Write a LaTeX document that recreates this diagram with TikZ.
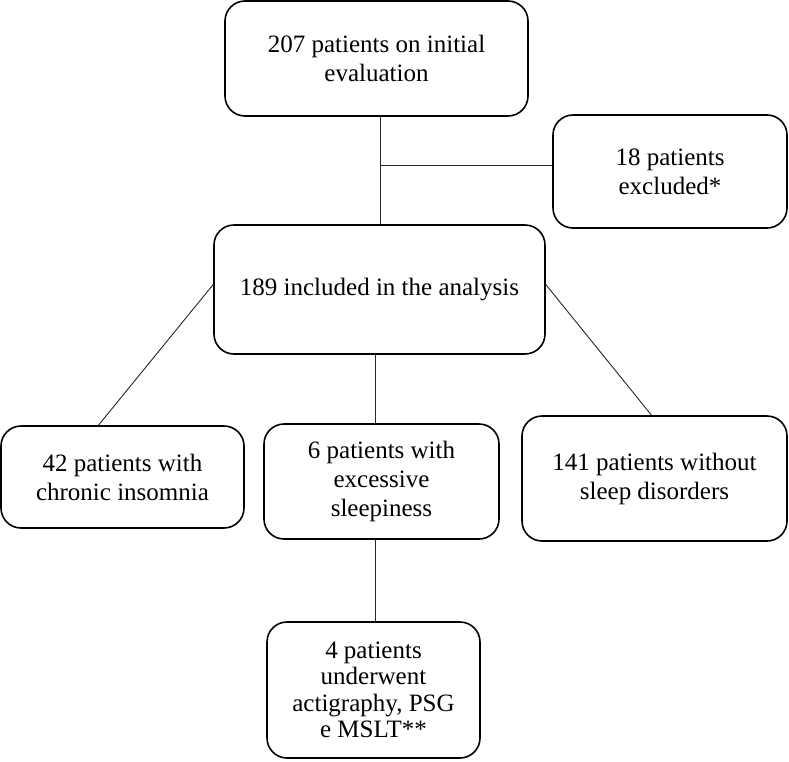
\documentclass[tikz,border=0pt]{standalone}
\usepackage{fontspec}
\setmainfont{Liberation Serif}
\usetikzlibrary{positioning}
\tikzstyle{box} = [rectangle, rounded corners=20pt, align=center, draw=black, line width=1.6pt, font=\fontsize{25}{29}\selectfont]
\tikzstyle{link} = [line width=0.9pt, draw=black!85]

\begin{document}
\begin{tikzpicture}[x=1pt, y=-1pt]
	\useasboundingbox (0,0) rectangle (789,761);

	\node (initial) [box, minimum width=303pt, minimum height=115pt] at (376.5,58.5) {207 patients on initial\\evaluation};
	\node (excluded) [box, minimum width=234pt, minimum height=113pt] at (670,171.5) {18 patients\\excluded*};
	\node (included) [box, minimum width=331pt, minimum height=129pt] at (379.5,289.5) {189 included in the analysis};

	\coordinate (split) at (380,165);
	\draw [link] (split |- initial.south) -- (split |- included.north);
	\draw [link] (split) -- (split -| excluded.west);

	\node (insomnia) [box, minimum width=243pt, minimum height=102pt] at (122.5,477) {42 patients with\\chronic insomnia};
	\node (sleepy) [box, minimum width=235pt, minimum height=115pt] at (381.5,481.5) {6 patients with\\excessive\\sleepiness};
	\node (nodisorder) [box, minimum width=265pt, minimum height=125pt] at (654.5,478.5) {141 patients without\\sleep disorders};

	\draw [link] ([yshift=5pt]included.west) -- ([xshift=-24pt]insomnia.north);
	\draw [link] ([yshift=5pt]included.east) -- ([xshift=-3pt]nodisorder.north);
	\draw [link] ([xshift=-4.5pt]included.south) -- ([xshift=-4.5pt]included.south |- sleepy.north);

	\node (tests) [box, minimum width=213pt, minimum height=136pt, font=\fontsize{25}{26.5}\selectfont] at (373.5,690) {4 patients\\underwent\\actigraphy, PSG\\e MSLT**};

	\draw [link] ([xshift=-6.5pt]sleepy.south) -- ([xshift=-6.5pt]sleepy.south |- tests.north);
\end{tikzpicture}
\end{document}
